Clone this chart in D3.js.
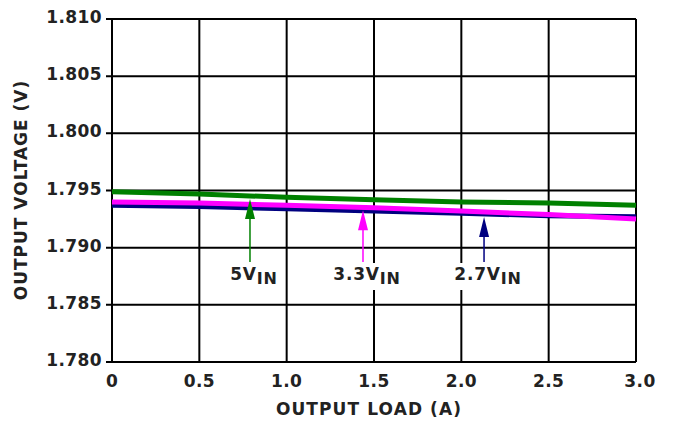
<!DOCTYPE html>
<html>
<head>
<meta charset="utf-8">
<script src="https://cdn.jsdelivr.net/npm/d3@7"></script>
<style>
body { margin: 0; background: #fff; }
svg text { font-family: "DejaVu Sans", Verdana, sans-serif; font-weight: bold; fill: #222; }
</style>
</head>
<body>
<div id="chart"></div>
<script>
/**
 * chart data
 */
const loads = [0, 0.5, 1.0, 1.5, 2.0, 2.5, 3.0];
const vin5 = [1.7949, 1.7947, 1.7944, 1.7942, 1.7940, 1.7939, 1.7937];
const vin33 = [1.7940, 1.7939, 1.7937, 1.7935, 1.7932, 1.7929, 1.7925];
const vin27 = [1.7937, 1.7936, 1.7934, 1.7932, 1.7930, 1.7928, 1.7927];
const xTicks = [0, 0.5, 1.0, 1.5, 2.0, 2.5, 3.0];
const xTickLabels = ["0", "0.5", "1.0", "1.5", "2.0", "2.5", "3.0"];
const yTicks = [1.780, 1.785, 1.790, 1.795, 1.800, 1.805, 1.810];
const seriesNames = ["5V", "3.3V", "2.7V"];
const arrowLoads = [0.79, 1.437, 2.13];

/**
 * layout constants
 */
const WIDTH = 680;
const HEIGHT = 422;
const LEFT = 112, RIGHT = 636, TOP = 19, BOTTOM = 362;
const COLORS = {"5V": "#008000", "3.3V": "#ff00ff", "2.7V": "#000080"};

const svg = d3.select("#chart").append("svg")
    .attr("width", WIDTH)
    .attr("height", HEIGHT);

const x = d3.scaleLinear().domain([0, 3.0]).range([LEFT, RIGHT]);
const y = d3.scaleLinear().domain([1.780, 1.810]).range([BOTTOM, TOP]);

// grid
svg.append("g").selectAll("line.v")
    .data(xTicks)
    .enter().append("line")
    .attr("x1", d => x(d)).attr("x2", d => x(d))
    .attr("y1", TOP).attr("y2", BOTTOM)
    .attr("stroke", "#000").attr("stroke-width", 2);

svg.append("g").selectAll("line.h")
    .data(yTicks)
    .enter().append("line")
    .attr("x1", LEFT - 6).attr("x2", RIGHT)
    .attr("y1", d => y(d)).attr("y2", d => y(d))
    .attr("stroke", "#000").attr("stroke-width", 2);

// tick labels
svg.append("g").selectAll("text")
    .data(yTicks)
    .enter().append("text")
    .attr("x", LEFT - 10)
    .attr("y", d => y(d) - 2)
    .attr("dy", "0.36em")
    .attr("text-anchor", "end")
    .attr("font-size", 17)
    .attr("letter-spacing", 0.4)
    .text(d => d3.format(".3f")(d));

svg.append("g").selectAll("text")
    .data(xTicks)
    .enter().append("text")
    .attr("x", (d, i) => x(d) + (i == xTicks.length - 1 ? 4 : 0))
    .attr("y", 387)
    .attr("text-anchor", "middle")
    .attr("font-size", 17)
    .attr("letter-spacing", 0.4)
    .text((d, i) => xTickLabels[i]);

// axis titles
svg.append("text")
    .attr("x", (LEFT + RIGHT) / 2 - 5)
    .attr("y", 415)
    .attr("text-anchor", "middle")
    .attr("font-size", 17)
    .attr("letter-spacing", 1.1)
    .text("OUTPUT LOAD (A)");

svg.append("text")
    .attr("transform", "translate(27," + 190 + ") rotate(-90)")
    .attr("text-anchor", "middle")
    .attr("font-size", 17)
    .attr("letter-spacing", 1.0)
    .text("OUTPUT VOLTAGE (V)");

// series
const series = [
    {name: "2.7V", values: vin27},
    {name: "3.3V", values: vin33},
    {name: "5V", values: vin5}
];

const line = d3.line()
    .x((d, i) => x(loads[i]))
    .y(d => y(d));

svg.append("g").selectAll("path")
    .data(series)
    .enter().append("path")
    .attr("d", d => line(d.values))
    .attr("fill", "none")
    .attr("stroke", d => COLORS[d.name])
    .attr("stroke-width", 5);

// annotations: arrows pointing at each curve
function valueAt(values, load) {
    return d3.scaleLinear().domain(loads).range(values)(load);
}

const valuesByName = {"5V": vin5, "3.3V": vin33, "2.7V": vin27};
const LABEL_Y = 280;

seriesNames.forEach(function(name, i) {
    const ax = x(arrowLoads[i]);
    const tipY = y(valueAt(valuesByName[name], arrowLoads[i])) + 3;
    const g = svg.append("g");

    g.append("line")
        .attr("x1", ax).attr("x2", ax)
        .attr("y1", tipY + 18).attr("y2", 262)
        .attr("stroke", COLORS[name]).attr("stroke-width", 1.5);

    g.append("path")
        .attr("d", "M" + ax + "," + tipY + " L" + (ax - 5) + "," + (tipY + 20) +
                   " L" + (ax + 5) + "," + (tipY + 20) + " Z")
        .attr("fill", COLORS[name]);

    const label = g.append("text")
        .attr("x", ax + 4)
        .attr("y", LABEL_Y)
        .attr("text-anchor", "middle")
        .attr("font-size", 17)
        .attr("letter-spacing", 0.8);
    label.append("tspan").text(name);
    label.append("tspan").attr("dy", 4).attr("font-size", 16).text("IN");

    const bb = label.node().getBBox();
    g.insert("rect", "text")
        .attr("x", bb.x - 5).attr("y", 263)
        .attr("width", bb.width + 10).attr("height", 27)
        .attr("fill", "#fff");
});
</script>
</body>
</html>
